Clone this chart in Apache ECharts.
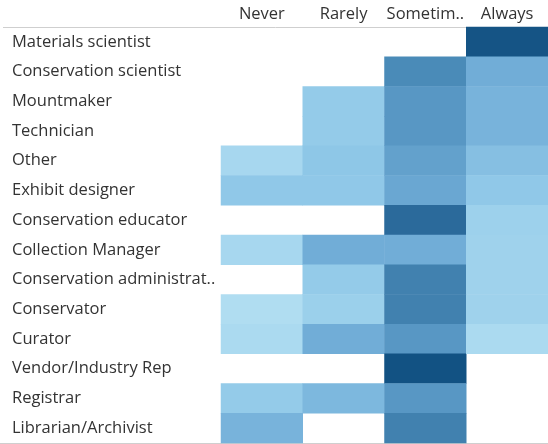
<!DOCTYPE html>
<html>
<head>
<meta charset="utf-8">
<script src="https://cdn.jsdelivr.net/npm/echarts@6/dist/echarts.min.js"></script>
<style>
  html, body { margin: 0; padding: 0; background: #fff; }
  #main { width: 548px; height: 444px; }
</style>
</head>
<body>
<div id="main"></div>
<script>
// 列和行
var frequencies = ['Never', 'Rarely', 'Sometim..', 'Always'];
var roles = ['Materials scientist', 'Conservation scientist', 'Mountmaker', 'Technician', 'Other',
  'Exhibit designer', 'Conservation educator', 'Collection Manager', 'Conservation administrat..',
  'Conservator', 'Curator', 'Vendor/Industry Rep', 'Registrar', 'Librarian/Archivist'];

// intensity per role, one value per frequency column (null = no cell)
var neverVals     = [null, null, null, null, 8, 20, null, 8, null, 3, 6, null, 18, 34];
var rarelyVals    = [null, null, 18, 18, 21, 20, null, 38, 18, 14, 38, null, 31, null];
var sometimesVals = [null, 60, 52, 52, 46, 42, 80, 38, 66, 66, 52, 98, 52, 66];
var alwaysVals    = [96, 38, 34, 34, 26, 20, 13, 12, 12, 12, 6, null, null, null];

var columns = [neverVals, rarelyVals, sometimesVals, alwaysVals];
var data = [];
columns.forEach(function (col, ci) {
  col.forEach(function (v, ri) {
    if (v !== null) data.push([ci, ri, v]);
  });
});

var myChart = echarts.init(document.getElementById('main'));
var option = {
  animation: false,
  textStyle: { fontFamily: 'Open Sans' },
  grid: { left: 221, right: 0, top: 27, bottom: 1 },
  xAxis: {
    type: 'category',
    position: 'top',
    data: frequencies,
    axisLine: { show: false },
    axisTick: { show: false },
    splitLine: { show: false },
    axisLabel: { interval: 0, margin: 4, fontSize: 16.5, color: '#333' }
  },
  yAxis: {
    type: 'category',
    inverse: true,
    data: roles,
    axisLine: { show: false },
    axisTick: { show: false },
    splitLine: { show: false },
    axisLabel: { interval: 0, align: 'left', margin: 209, fontSize: 16.5, color: '#333' }
  },
  visualMap: {
    show: false,
    min: 0,
    max: 100,
    dimension: 2,
    inRange: { color: ['#b6e1f3', '#90c8e8', '#6eaad5', '#4a8bb8', '#2b6a9b', '#0f4f80'] }
  },
  graphic: [
    { type: 'line', shape: { x1: 3, y1: 27.5, x2: 548, y2: 27.5 }, style: { stroke: '#cfcfcf', lineWidth: 1 } },
    { type: 'line', shape: { x1: 0, y1: 443.5, x2: 548, y2: 443.5 }, style: { stroke: '#cfcfcf', lineWidth: 1 } }
  ],
  series: [{
    type: 'heatmap',
    data: data,
    itemStyle: { borderWidth: 0 },
    emphasis: { disabled: true }
  }]
};
myChart.setOption(option);
</script>
</body>
</html>
